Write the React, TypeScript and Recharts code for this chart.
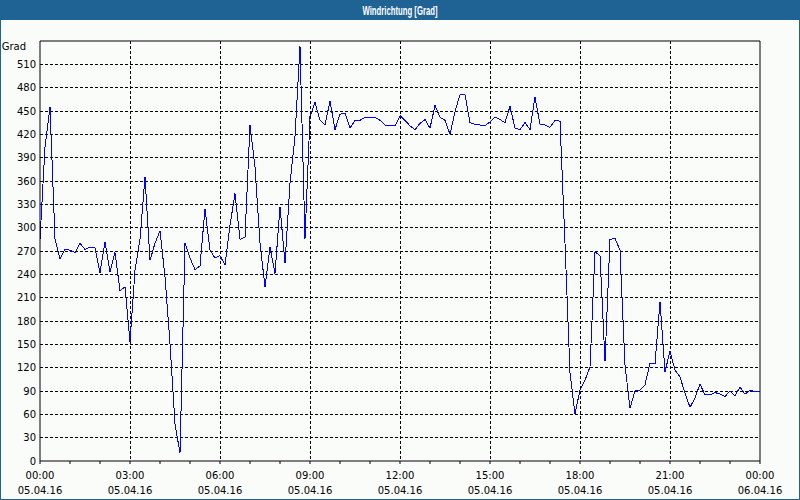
import { LineChart, Line, XAxis, YAxis, CartesianGrid, ReferenceLine } from "recharts";

// wind direction in degrees, one value every 10 minutes, 05.04.16 00:00 .. 06.04.16 00:00
const windDir = [
  285, 404, 455, 285, 260, 272, 271, 268, 280, 272,
  275, 274, 242, 282, 243, 268, 219, 224, 153, 245,
  285, 365, 258, 280, 296, 237, 151, 48, 10, 280,
  261, 246, 251, 324, 271, 261, 264, 252, 303, 344,
  285, 288, 432, 378, 280, 224, 275, 241, 327, 254,
  357, 417, 533, 286, 443, 461, 438, 432, 463, 426,
  446, 447, 428, 438, 438, 442, 442, 442, 438, 432,
  432, 431, 444, 438, 431, 426, 434, 439, 428, 457,
  442, 438, 420, 449, 471, 471, 435, 433, 432, 431,
  436, 442, 439, 435, 456, 428, 426, 435, 426, 468,
  433, 432, 429, 438, 437, 280, 113, 61, 91, 104,
  121, 269, 264, 128, 285, 286, 271, 123, 68, 90,
  91, 98, 126, 125, 205, 115, 141, 117, 108, 87,
  69, 81, 99, 85, 85, 88, 86, 83, 90, 84,
  95, 86, 91, 89, 90,
];

const hourTicks = [0, 1, 2, 3, 4, 5, 6, 7, 8, 9, 10, 11, 12, 13, 14, 15, 16, 17, 18, 19, 20, 21, 22, 23, 24];
const gridHours = [3, 6, 9, 12, 15, 18, 21];
const gradTicks = [0, 30, 60, 90, 120, 150, 180, 210, 240, 270, 300, 330, 360, 390, 420, 450, 480, 510, 540];
const gridGrad = [30, 60, 90, 120, 150, 180, 210, 240, 270, 300, 330, 360, 390, 420, 450, 480, 510];
const compassTicks = [0, 45, 90, 135, 180, 225, 270, 315, 360, 405, 450, 495, 540];
const compassLabels = ["N", "NE", "E", "SE", "S", "SW", "W", "NW", "N", "NE", "E", "SE", "S"];

const data = windDir.map((v, i) => ({ t: i / 6, dir: v }));

const FONT = "'DejaVu Sans', Tahoma, sans-serif";
const BLUE = "#1f6395";

function pad(n: number) {
  return n < 10 ? "0" + n : String(n);
}

const TimeTick = ({ x, y, payload }: any) => {
  const h = payload.value;
  if (h % 3 !== 0) return <g />;
  const date = h >= 24 ? "06.04.16" : "05.04.16";
  return (
    <g>
      <text x={x} y={y + 13} textAnchor="middle" fontSize={10} fontFamily={FONT} fill="#000">
        {pad(h % 24) + ":00"}
      </text>
      <text x={x} y={y + 28} textAnchor="middle" fontSize={10} fontFamily={FONT} fill="#000">
        {date}
      </text>
    </g>
  );
};

const GradTick = ({ x, y, payload }: any) => {
  if (payload.value === 540) {
    return (
      <text x={x - 10} y={y + 5} dy="0.355em" textAnchor="end" fontSize={10} fontFamily={FONT} fill="#000">
        Grad
      </text>
    );
  }
  return (
    <text x={x} y={y} dy="0.355em" textAnchor="end" fontSize={10} fontFamily={FONT} fill="#000">
      {payload.value}
    </text>
  );
};

export default function App() {
  return (
    <div
      style={{
        position: "absolute",
        left: 0,
        top: 0,
        width: 800,
        height: 500,
        background: "#fafcfa",
        boxShadow: `inset 0 0 0 1px ${BLUE}`,
        overflow: "hidden",
      }}
    >
      <style>{`.recharts-line-curve, .recharts-cartesian-grid line { shape-rendering: crispEdges; }`}</style>
      <div style={{ position: "absolute", left: 0, top: 0, width: 800, height: 20, background: BLUE }}>
        <svg width={800} height={20}>
          <text
            x={400}
            y={14.5}
            textAnchor="middle"
            fontSize={12.5}
            fontWeight="bold"
            fontFamily="'Liberation Sans Narrow', 'Liberation Sans', sans-serif"
            fill="#fff"
            textLength={75}
            lengthAdjust="spacingAndGlyphs"
          >
            Windrichtung [Grad]
          </text>
        </svg>
      </div>
      <div style={{ position: "absolute", left: 0, top: 20 }}>
        <LineChart width={800} height={480} data={data} margin={{ top: 21, right: 0, bottom: 0, left: 0 }}>
          <CartesianGrid
            xAxisId="time"
            yAxisId="left"
            stroke="#000"
            strokeDasharray="3 2"
            horizontalValues={gridGrad}
            verticalValues={gridHours}
          />
          <XAxis
            xAxisId="time"
            dataKey="t"
            type="number"
            domain={[0, 24]}
            ticks={hourTicks}
            interval={0}
            height={39}
            stroke="#000"
            tickSize={3}
            tickMargin={2}
            tick={<TimeTick />}
          />
          <YAxis
            yAxisId="left"
            type="number"
            domain={[0, 540]}
            ticks={gradTicks}
            interval={0}
            width={40}
            stroke="#000"
            tickLine={false}
            tickSize={0}
            tickMargin={4}
            tick={<GradTick />}
          />
          <YAxis
            yAxisId="right"
            orientation="right"
            type="number"
            domain={[0, 540]}
            ticks={compassTicks}
            interval={0}
            width={40}
            stroke="#000"
            tickSize={3}
            tickMargin={2}
            tick={{ fontSize: 10, fontFamily: FONT, fill: "#000" }}
            tickFormatter={(v: number) => compassLabels[compassTicks.indexOf(v)]}
          />
          <ReferenceLine xAxisId="time" yAxisId="left" y={540} stroke="#000" />
          <Line
            xAxisId="time"
            yAxisId="left"
            type="linear"
            dataKey="dir"
            stroke="#0000ff"
            strokeWidth={1}
            dot={false}
            isAnimationActive={false}
          />
        </LineChart>
      </div>
    </div>
  );
}
